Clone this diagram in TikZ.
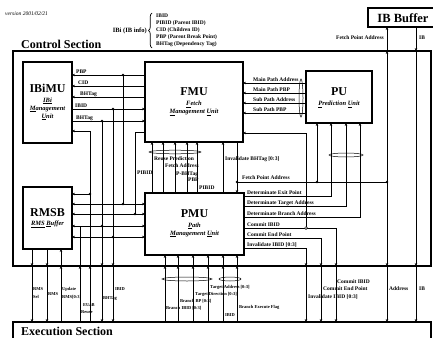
\documentclass[tikz,border=0pt]{standalone}
\usepackage{fontspec}
\setmainfont{Liberation Serif}
\usetikzlibrary{arrows.meta,shapes.geometric,decorations.pathreplacing}
\begin{document}
\begin{tikzpicture}[x=1pt,y=-1pt,
 wire/.style={line width=0.6pt},
 arr/.style={wire,-{Stealth[length=3pt,width=2.6pt]}},
 darr/.style={wire,{Stealth[length=3pt,width=2.6pt]}-{Stealth[length=3pt,width=2.6pt]}},
 ubox/.style={draw,line width=1.2pt,inner sep=0pt,outer sep=0pt},
 fbox/.style={draw,line width=1.6pt,inner sep=0pt,outer sep=0pt},
 jdot/.style={circle,fill,inner sep=0pt,minimum size=2.8pt},
 odot/.style={circle,draw,fill=white,line width=0.5pt,inner sep=0pt,minimum size=2.8pt},
 busel/.style={ellipse,draw,line width=0.5pt,inner sep=0pt},
 lbl/.style={font=\fontsize{5.5}{6}\selectfont\bfseries,inner sep=0pt,anchor=base west},
 lbls/.style={font=\fontsize{4.5}{5}\selectfont\bfseries,inner sep=0pt,anchor=base west},
 ttl/.style={font=\fontsize{12}{13}\selectfont\bfseries,inner sep=0pt},
 subt/.style={font=\fontsize{6.5}{7.5}\selectfont\bfseries\itshape,inner sep=0pt},
 secttxt/.style={font=\fontsize{12}{13}\selectfont\bfseries,inner sep=0pt,anchor=west}
]
\useasboundingbox (0,0) rectangle (433,337);

% ---- frames
\node[fbox,minimum width=418pt,minimum height=215pt] (ctrl) at (222,158.5) {};
\node[fbox,minimum width=418pt,minimum height=36pt] (exec) at (222,340) {};
\node[fbox,minimum width=70pt,minimum height=19pt] (ibbuf) at (403,17.5) {};
\node[font=\fontsize{12.5}{13}\selectfont\bfseries,inner sep=0pt] (ibbuft) at (403,18.5) {IB Buffer};
\node[secttxt] (ctrlt) at (21,44) {Control Section};
\node[secttxt] (exect) at (21,331) {Execution Section};
\node[font=\fontsize{5.5}{6}\selectfont\itshape,inner sep=0pt,anchor=west] (ver) at (5,14) {version 2001/02/21};

% ---- IBi info
\node[font=\fontsize{6.5}{7}\selectfont\bfseries,inner sep=0pt,anchor=east] (ibi) at (147,31) {IBi (IB info)};
\coordinate (brT) at (152,13);
\coordinate (brB) at (152,48);
\draw[line width=0.7pt,decorate,decoration={brace,amplitude=3.5pt}] (brB) -- (brT);
\node[lbl] (i1) at (156,17.5) {IBID};
\node[lbl] (i2) at (156,24.5) {PIBID (Parent IBID)};
\node[lbl] (i3) at (156,31.5) {CID (Children ID)};
\node[lbl] (i4) at (156,38.5) {PBP (Parent Break Point)};
\node[lbl] (i5) at (156,45.5) {BHTag (Dependency Tag)};

% ---- units
\node[ubox,minimum width=49pt,minimum height=81pt] (ibimu) at (47.5,102.5) {};
\node[ubox,minimum width=98pt,minimum height=80pt] (fmu) at (194,102) {};
\node[ubox,minimum width=66pt,minimum height=52pt] (pu) at (339,97) {};
\node[ubox,minimum width=49pt,minimum height=62pt] (rmsb) at (47.5,218) {};
\node[ubox,minimum width=99pt,minimum height=62pt] (pmu) at (194.5,224) {};

\node[ttl] (ibimut) at (47.5,88) {IBiMU};
\node[subt] (ibimu1) at (47.5,101) {\underline{IBi}};
\node[subt] (ibimu2) at (47.5,109) {\underline{M}anagement};
\node[subt] (ibimu3) at (47.5,117) {\underline{U}nit};
\node[ttl] (fmut) at (194,92) {FMU};
\node[subt] (fmu1) at (194,104.5) {\underline{F}etch};
\node[subt] (fmu2) at (194,112.5) {\underline{M}anagement \underline{U}nit};
\node[ttl] (put) at (339,92) {PU};
\node[subt] (pu1) at (339,104.5) {\underline{P}rediction \underline{U}nit};
\node[ttl] (rmsbt) at (47.5,213) {RMSB};
\node[subt] (rmsb1) at (47.5,224) {\underline{RMS} \underline{B}uffer};
\node[ttl] (pmut) at (194.5,214) {PMU};
\node[subt] (pmu1) at (194.5,226) {\underline{P}ath};
\node[subt] (pmu2) at (194.5,234) {\underline{M}anagement \underline{U}nit};

% ---- junction coordinates
\coordinate (pbpD) at (123,75);
\coordinate (cidY) at (100,86);
\coordinate (bh1Y) at (100,97);
\coordinate (ibidD) at (113,109);
\coordinate (bh2D) at (102,121);
\coordinate (ebT) at (90,131);
\coordinate (ebD) at (90,194);
\coordinate (pibT) at (135,132);
\coordinate (pibD) at (135,214);
\coordinate (pbpE) at (123,204);
\coordinate (bh2E) at (102,226);
\coordinate (reuseT) at (80,226);
\coordinate (ibidE) at (113,237);

% ---- IBiMU <-> FMU
\draw[arr] (fmu.west |- pbpD) -- (ibimu.east |- pbpD);
\draw[arr] (fmu.west |- cidY) -- (ibimu.east |- cidY);
\draw[arr] (fmu.west |- bh1Y) -- (ibimu.east |- bh1Y);
\draw[arr] (ibimu.east |- ibidD) -- (fmu.west |- ibidD);
\draw[arr] (ibimu.east |- bh2D) -- (fmu.west |- bh2D);
\node[lbl] (lpbp) at (76,73.5) {PBP};
\node[lbl] (lcid) at (78,84.5) {CID};
\node[lbl] (lbh1) at (80,95.5) {BHTag};
\node[lbl] (libid) at (75,107.5) {IBID};
\node[lbl] (lbh2) at (76,119.5) {BHTag};

% ---- verticals on the left
\draw[arr] (ebT) -- (ibimu.east |- ebT);
\draw[wire] (ctrl.south -| ebT) -- (ebT);
\draw[arr] (exec.north -| ebT) -- (ctrl.south -| ebT);
\draw[arr] (ebD) -- (rmsb.east |- ebD);
\draw[wire] (fmu.west |- pibT) -- (pibT) -- (pibD);
\node[lbl] (lpib) at (137,174.5) {PIBID};
\draw[wire] (pbpD) -- (pbpE);
\draw[wire] (bh2D) -- (bh2E);
\draw[wire] (ibidD) -- (ibidE);
\draw[arr] (bh2E) -- (ctrl.south -| bh2E);
\draw[arr] (ctrl.south -| bh2E) -- (exec.north -| bh2E);
\draw[arr] (ibidE) -- (ctrl.south -| ibidE);
\draw[arr] (ctrl.south -| ibidE) -- (exec.north -| ibidE);
\draw[arr] (exec.north -| reuseT) -- (ctrl.south -| reuseT);
\draw[wire] (ctrl.south -| reuseT) -- (reuseT);

% ---- RMSB <-> PMU rows
\draw[darr] (rmsb.east |- pbpE) -- (pmu.west |- pbpE);
\draw[darr] (rmsb.east |- pibD) -- (pmu.west |- pibD);
\draw[darr] (rmsb.east |- bh2E) -- (pmu.west |- bh2E);
\draw[darr] (rmsb.east |- ibidE) -- (pmu.west |- ibidE);

% ---- RMSB bottom
\coordinate (xA) at (32,300);
\coordinate (xB) at (47,300);
\coordinate (xC) at (61,300);
\draw[arr] (rmsb.south -| xA) -- (ctrl.south -| xA);
\draw[arr] (ctrl.south -| xA) -- (exec.north -| xA);
\draw[arr] (rmsb.south -| xB) -- (ctrl.south -| xB);
\draw[arr] (ctrl.south -| xB) -- (exec.north -| xB);
\draw[arr] (exec.north -| xC) -- (ctrl.south -| xC);
\draw[arr] (ctrl.south -| xC) -- (rmsb.south -| xC);
\node[lbls] (lrs1) at (33,290) {RMS};
\node[lbls] (lrs2) at (33,298) {Sel};
\node[lbls] (lrms) at (48,295.5) {RMS};
\node[lbls] (lup1) at (62,290) {Update};
\node[lbls] (lup2) at (62,298) {RMS[0:3]};
\node[lbls] (leub) at (83,306.5) {EUaB};
\node[lbls] (lreu) at (81,313.5) {Reuse};
\node[lbls] (lbhb) at (103,299.5) {BHTag};
\node[lbls] (libb) at (115,290.5) {IBID};

% ---- FMU <-> PMU
\coordinate (u1) at (152,170);
\coordinate (u2) at (163,170);
\coordinate (u3) at (175,170);
\coordinate (u4) at (187,170);
\coordinate (u5) at (197,170);
\coordinate (u6) at (223,170);
\coordinate (fpD) at (237,182);
\foreach \c in {u1,u2,u3,u4,u5,u6}{\draw[arr] (pmu.north -| \c) -- (fmu.south -| \c);}
\draw[arr] (fmu.south -| fpD) -- (pmu.north -| fpD);
\node[busel,minimum width=52pt,minimum height=3.6pt] (bus1) at (175,152) {};
\node[lbl] (lrp) at (154,160.5) {Reuse Prediction};
\node[lbl] (lfa) at (165,167.5) {Fetch Address};
\node[lbl] (lpbh) at (176,175.5) {P-BHTag};
\node[lbl] (lpbp2) at (188,181.5) {PBP};
\node[lbl] (lpib2) at (199,189.5) {PIBID};
\node[lbl] (linvb) at (225,160.5) {Invalidate BHTag [0:3]};

% ---- Fetch point address & IB
\coordinate (puFP) at (317,182);
\coordinate (addrD) at (387,182);
\coordinate (xIB) at (416,150);
\draw[wire] (fpD) -- (addrD);
\draw[arr] (puFP) -- (pu.south -| puFP);
\draw[arr] (addrD) -- (ctrl.north -| addrD);
\draw[arr] (ctrl.north -| addrD) -- (ibbuf.south -| addrD);
\draw[arr] (addrD) -- (ctrl.south -| addrD);
\draw[arr] (ctrl.south -| addrD) -- (exec.north -| addrD);
\draw[arr] (ibbuf.south -| xIB) -- (ctrl.north -| xIB);
\draw[arr] (ctrl.north -| xIB) -- (ctrl.south -| xIB);
\draw[arr] (ctrl.south -| xIB) -- (exec.north -| xIB);
\node[lbl] (lfpa) at (242,179.5) {Fetch Point Address};
\node[lbl,anchor=base east] (lfpt) at (384,39.5) {Fetch Point Address};
\node[lbl] (libt) at (419,39.5) {IB};
\node[lbl] (laddr) at (389,290.5) {Address};
\node[lbl] (libb2) at (419,290.5) {IB};

% ---- PU -> FMU
\coordinate (p1) at (280,83);
\coordinate (p2) at (280,93);
\coordinate (p3) at (280,103);
\coordinate (p4) at (280,113);
\foreach \c in {p1,p2,p3,p4}{\draw[arr] (pu.west |- \c) -- (fmu.east |- \c);}
\node[busel,minimum width=4pt,minimum height=38pt] (bus2) at (301,98) {};
\node[lbl] (lmpa) at (253,81.5) {Main Path Address};
\node[lbl] (lmpp) at (253,91.5) {Main Path PBP};
\node[lbl] (lspa) at (253,101.5) {Sub Path Address};
\node[lbl] (lspp) at (253,111.5) {Sub Path PBP};

% ---- PMU right side
\coordinate (deT) at (331,196);
\coordinate (dtT) at (346,206);
\coordinate (dbT) at (360,217);
\coordinate (ciT) at (306,133);
\coordinate (ciD) at (306,228);
\coordinate (ciR) at (336,228);
\coordinate (ceR) at (321,238);
\coordinate (iiR) at (306,248);
\draw[arr] (pmu.east |- deT) -- (deT) -- (pu.south -| deT);
\draw[arr] (pmu.east |- dtT) -- (dtT) -- (pu.south -| dtT);
\draw[arr] (pmu.east |- dbT) -- (dbT) -- (pu.south -| dbT);
\node[busel,minimum width=34pt,minimum height=4pt] (bus3) at (346,155) {};
\draw[arr] (ciD) -- (ciT) -- (fmu.east |- ciT);
\draw[wire] (pmu.east |- ciD) -- (ciR);
\draw[arr] (ciR) -- (ctrl.south -| ciR);
\draw[arr] (ctrl.south -| ciR) -- (exec.north -| ciR);
\draw[arr] (pmu.east |- ceR) -- (ceR) -- (ctrl.south -| ceR);
\draw[arr] (ctrl.south -| ceR) -- (exec.north -| ceR);
\draw[arr] (pmu.east |- iiR) -- (iiR) -- (ctrl.south -| iiR);
\draw[arr] (ctrl.south -| iiR) -- (exec.north -| iiR);
\node[lbl] (lde) at (247,194.5) {Determinate Exit Point};
\node[lbl] (ldt) at (247,204.5) {Determinate Target Address};
\node[lbl] (ldb) at (247,215.5) {Determinate Branch Address};
\node[lbl] (lci) at (247,226.5) {Commit IBID};
\node[lbl] (lce) at (247,236.5) {Commit End Point};
\node[lbl] (lii) at (247,246.5) {Invalidate IBID [0:3]};
\node[lbl] (lci2) at (337,283.5) {Commit IBID};
\node[lbl] (lce2) at (323,290.5) {Commit End Point};
\node[lbl] (lii2) at (308,298.5) {Invalidate IBID [0:3]};

% ---- Execution -> PMU bottom
\coordinate (b1) at (165,300);
\coordinate (b2) at (178,300);
\coordinate (b3) at (193,300);
\coordinate (b4) at (208,300);
\coordinate (b5) at (223,300);
\coordinate (b6) at (237,300);
\foreach \c in {b1,b2,b3,b4,b5,b6}{
  \draw[arr] (exec.north -| \c) -- (ctrl.south -| \c);
  \draw[arr] (ctrl.south -| \c) -- (pmu.south -| \c);}
\node[busel,minimum width=50pt,minimum height=4pt] (bus4) at (187,279) {};
\node[busel,minimum width=22pt,minimum height=4pt] (bus5) at (230,279) {};
\node[lbls] (lta) at (210,288.5) {Target Address [0:3]};
\node[lbls] (ltd) at (195,295.5) {Target Direction [0:3]};
\node[lbls] (lbbp) at (180,302.5) {Branch BP [0:3]};
\node[lbls] (lbib) at (166,309.5) {Branch IBID [0:3]};
\node[lbls] (lbef) at (239,308.5) {Branch Execute Flag};
\node[lbls] (libx) at (225,316.5) {IBID};

% ---- dots
\foreach \c in {pbpD,ibidD,bh2D,ebD,pibD,pbpE,bh2E,ibidE,fpD,puFP,addrD}{\node[jdot] at (\c) {};}
\node[odot] (cio) at (ciD) {};
\end{tikzpicture}
\end{document}
